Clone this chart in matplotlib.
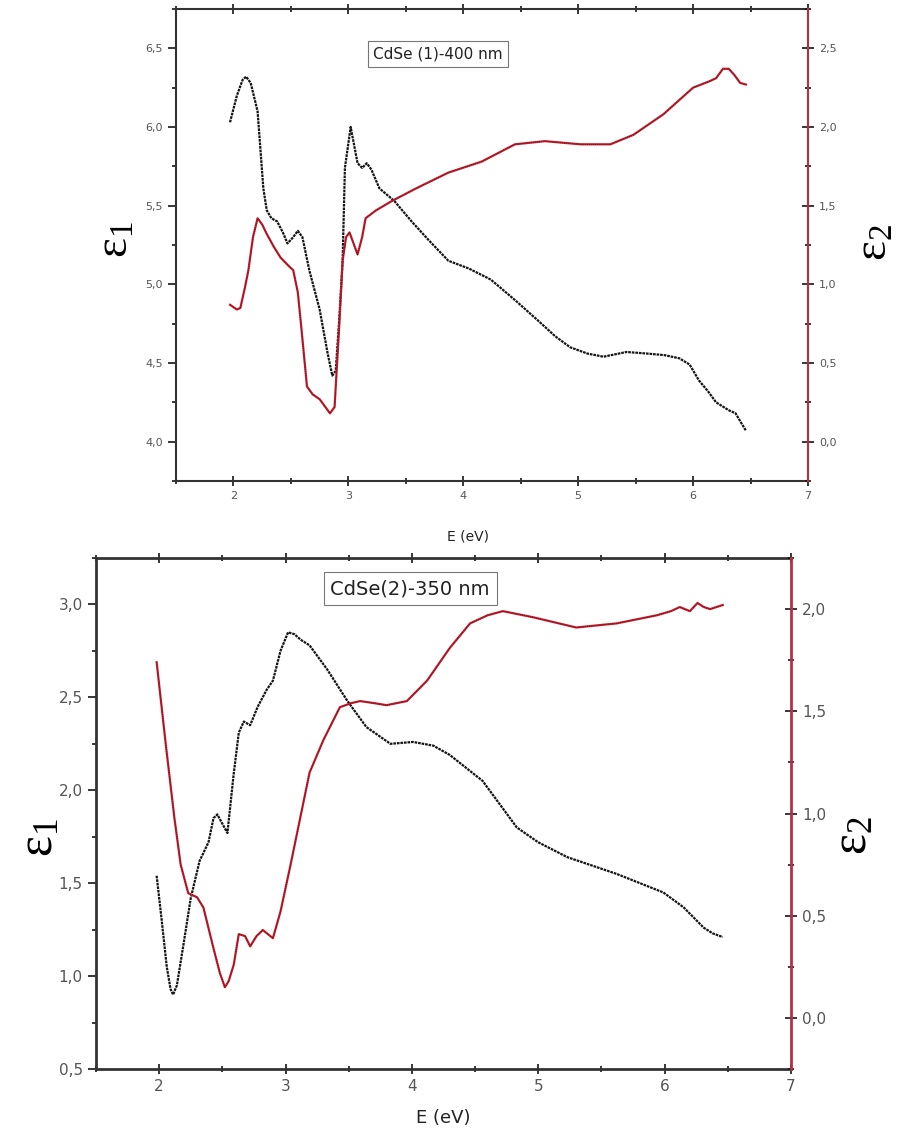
import matplotlib
matplotlib.use("Agg")
import matplotlib.pyplot as plt
from matplotlib.ticker import MultipleLocator, FuncFormatter

plt.rcParams['mathtext.fontset'] = 'custom'
plt.rcParams['mathtext.rm'] = 'Liberation Serif'
plt.rcParams['mathtext.it'] = 'Liberation Serif'

# ---------------- data: panel 1 (CdSe (1)-400 nm) ----------------
e1_top_E = [1.97, 2.03, 2.08, 2.11, 2.15, 2.21, 2.26, 2.29, 2.33, 2.38, 2.43, 2.47, 2.52, 2.56,
            2.60, 2.66, 2.75, 2.82, 2.86, 2.89, 2.92, 2.95, 2.97, 3.02, 3.08, 3.12, 3.16, 3.20,
            3.27, 3.40, 3.55, 3.70, 3.87, 4.05, 4.24, 4.45, 4.65, 4.80, 4.93, 5.08, 5.22, 5.42,
            5.60, 5.75, 5.88, 5.97, 6.05, 6.13, 6.20, 6.31, 6.37, 6.41, 6.46]
e1_top = [6.03, 6.20, 6.30, 6.32, 6.28, 6.10, 5.61, 5.47, 5.42, 5.40, 5.33, 5.26, 5.30, 5.34,
          5.30, 5.09, 4.84, 4.56, 4.42, 4.45, 4.77, 5.15, 5.74, 6.00, 5.77, 5.74, 5.77, 5.73,
          5.61, 5.53, 5.40, 5.28, 5.15, 5.10, 5.03, 4.90, 4.77, 4.67, 4.60, 4.56, 4.54, 4.57,
          4.56, 4.55, 4.53, 4.49, 4.39, 4.32, 4.25, 4.20, 4.18, 4.13, 4.07]

e2_top_E = [1.97, 2.03, 2.06, 2.10, 2.13, 2.17, 2.21, 2.25, 2.29, 2.35, 2.41, 2.49, 2.52, 2.56,
            2.59, 2.64, 2.69, 2.75, 2.80, 2.84, 2.88, 2.92, 2.95, 2.98, 3.01, 3.05, 3.08, 3.12,
            3.15, 3.24, 3.38, 3.59, 3.87, 4.16, 4.45, 4.71, 5.02, 5.28, 5.48, 5.74, 6.00, 6.14,
            6.20, 6.26, 6.31, 6.36, 6.41, 6.46]
e2_top = [0.87, 0.84, 0.85, 0.98, 1.09, 1.30, 1.42, 1.38, 1.32, 1.24, 1.17, 1.11, 1.09, 0.95,
          0.73, 0.35, 0.30, 0.27, 0.22, 0.18, 0.22, 0.73, 1.15, 1.30, 1.33, 1.25, 1.19, 1.30,
          1.42, 1.47, 1.53, 1.61, 1.71, 1.78, 1.89, 1.91, 1.89, 1.89, 1.95, 2.08, 2.25, 2.29,
          2.31, 2.37, 2.37, 2.33, 2.28, 2.27]

# ---------------- data: panel 2 (CdSe(2)-350 nm) ----------------
e1_bot_E = [1.98, 2.02, 2.06, 2.09, 2.11, 2.14, 2.19, 2.25, 2.32, 2.39, 2.43, 2.46, 2.50, 2.54,
            2.59, 2.63, 2.67, 2.72, 2.78, 2.85, 2.90, 2.96, 3.02, 3.07, 3.12, 3.19, 3.33, 3.49,
            3.64, 3.83, 4.01, 4.17, 4.30, 4.56, 4.83, 5.00, 5.23, 5.62, 5.99, 6.15, 6.31, 6.38,
            6.46]
e1_bot = [1.54, 1.30, 1.05, 0.93, 0.90, 0.95, 1.16, 1.42, 1.62, 1.72, 1.85, 1.87, 1.82, 1.77,
          2.09, 2.31, 2.37, 2.35, 2.45, 2.54, 2.59, 2.75, 2.85, 2.84, 2.81, 2.78, 2.65, 2.48,
          2.34, 2.25, 2.26, 2.24, 2.19, 2.05, 1.80, 1.72, 1.64, 1.55, 1.45, 1.37, 1.26, 1.23,
          1.21]

e2_bot_E = [1.98, 2.05, 2.12, 2.17, 2.23, 2.30, 2.35, 2.43, 2.48, 2.52, 2.55, 2.59, 2.63, 2.68,
            2.72, 2.77, 2.82, 2.86, 2.90, 2.96, 3.04, 3.09, 3.19, 3.30, 3.43, 3.52, 3.59, 3.70,
            3.80, 3.96, 4.12, 4.30, 4.46, 4.60, 4.72, 4.96, 5.30, 5.62, 5.94, 6.05, 6.12, 6.20,
            6.26, 6.31, 6.36, 6.46]
e2_bot = [1.74, 1.35, 0.98, 0.75, 0.61, 0.59, 0.54, 0.34, 0.22, 0.15, 0.18, 0.26, 0.41, 0.40,
          0.35, 0.40, 0.43, 0.41, 0.39, 0.52, 0.75, 0.90, 1.20, 1.36, 1.52, 1.54, 1.55, 1.54,
          1.53, 1.55, 1.65, 1.81, 1.93, 1.97, 1.99, 1.96, 1.91, 1.93, 1.97, 1.99, 2.01, 1.99,
          2.03, 2.01, 2.00, 2.02]

titles = ["CdSe (1)-400 nm", "CdSe(2)-350 nm"]
x_label = "E (eV)"
x_ticks = [2, 3, 4, 5, 6, 7]
eps1_label = r"$\mathrm{ε}_{1}$"
eps2_label = r"$\mathrm{ε}_{2}$"

BLACK = "#151515"
RED = "#c81e2e"
SPINE_RED = "#b8303e"
GRAY = "#555555"

comma = FuncFormatter(lambda v, p: ("%.1f" % v).replace(".", ","))
intfmt = FuncFormatter(lambda v, p: "%d" % round(v))

fig = plt.figure(figsize=(9.03, 11.38), dpi=100)

def make_panel(rect, E1, V1, E2, V2, ylim1, ylim2, title, tpos, fs_tick, fs_title, lw_sp):
    ax = fig.add_axes(rect)
    ax2 = ax.twinx()
    ax.plot(E1, V1, color=BLACK, lw=1.6, ls=(0, (1.2, 0.4)))
    ax2.plot(E2, V2, color=RED, lw=1.6)
    ax2.plot(E2, V2, color="#401010", lw=0.6, ls=(0, (1, 1.5)))
    ax.set_xlim(1.5, 7)
    ax.set_ylim(*ylim1)
    ax2.set_ylim(*ylim2)
    ax.set_xticks(x_ticks)
    ax.xaxis.set_minor_locator(MultipleLocator(0.5))
    ax.yaxis.set_major_locator(MultipleLocator(0.5))
    ax.yaxis.set_minor_locator(MultipleLocator(0.25))
    ax2.yaxis.set_major_locator(MultipleLocator(0.5))
    ax2.yaxis.set_minor_locator(MultipleLocator(0.25))
    ax.xaxis.set_major_formatter(intfmt)
    ax.yaxis.set_major_formatter(comma)
    ax2.yaxis.set_major_formatter(comma)
    ax.tick_params(axis='x', which='both', direction='inout', top=True, labelsize=fs_tick,
                   colors=BLACK, labelcolor=GRAY, length=7, width=1.2)
    ax.tick_params(axis='x', which='minor', length=4)
    ax.tick_params(axis='y', which='both', direction='out', labelsize=fs_tick,
                   colors=BLACK, labelcolor=GRAY, length=6, width=1.2)
    ax.tick_params(axis='y', which='minor', length=3)
    ax2.tick_params(axis='y', which='both', direction='inout', labelsize=fs_tick,
                    colors=BLACK, labelcolor=GRAY, length=9, width=1.2)
    ax2.tick_params(axis='y', which='minor', length=5)
    for s in ['left', 'bottom', 'top']:
        ax.spines[s].set_color("#333333")
        ax.spines[s].set_linewidth(lw_sp)
    ax2.spines['right'].set_color(SPINE_RED)
    ax2.spines['right'].set_linewidth(lw_sp)
    for s in ['left', 'bottom', 'top']:
        ax2.spines[s].set_visible(False)
    ax.spines['right'].set_visible(False)
    ax.text(tpos[0], tpos[1], title, transform=ax.transAxes, ha='center', va='center',
            fontsize=fs_title, color="#222222",
            bbox=dict(boxstyle='square,pad=0.35', fc='white', ec='#777777', lw=0.8))
    return ax, ax2

# top panel
make_panel([176/903, 1-481/1138, 632/903, 472/1138], e1_top_E, e1_top, e2_top_E, e2_top,
           (3.75, 6.75), (-0.25, 2.75), titles[0], (0.415, 0.905), 8, 11, 1.5)
fig.text(468/903, 1-537/1138, x_label, ha='center', va='center', fontsize=10, color="#222222")
fig.text(115/903, 1-240/1138, eps1_label, rotation=90, ha='center', va='center', fontsize=34)
fig.text(874/903, 1-243/1138, eps2_label, rotation=90, ha='center', va='center', fontsize=34)

# bottom panel
make_panel([96/903, 1-1069/1138, 695/903, 511/1138], e1_bot_E, e1_bot, e2_bot_E, e2_bot,
           (0.5, 3.25), (-0.25, 2.25), titles[1], (0.452, 0.940), 11, 14, 2.0)
fig.text(443/903, 1-1118/1138, x_label, ha='center', va='center', fontsize=13, color="#222222")
fig.text(38/903, 1-838/1138, eps1_label, rotation=90, ha='center', va='center', fontsize=36)
fig.text(852/903, 1-836/1138, eps2_label, rotation=90, ha='center', va='center', fontsize=36)

fig.savefig("out.png", dpi=100)
